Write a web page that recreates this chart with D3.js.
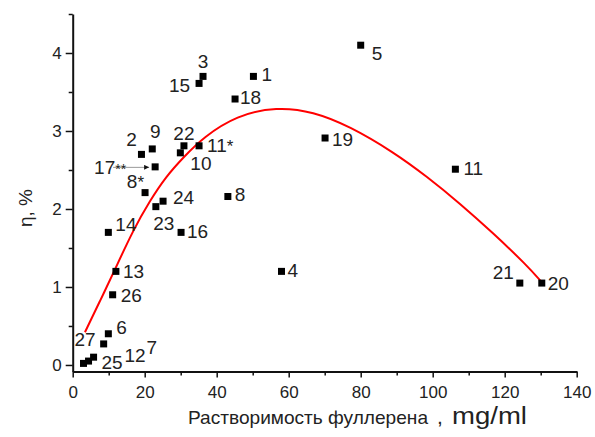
<!DOCTYPE html>
<html>
<head>
<meta charset="utf-8">
<script src="https://cdn.jsdelivr.net/npm/d3@7"></script>
<style>
body { margin: 0; background: #fff; }
text { font-family: "Liberation Sans", Arial, sans-serif; fill: #222; }
</style>
</head>
<body>
<div id="chart"></div>
<script>
// sample numbers and measured points
var ids   = ["1", "2", "3", "4", "5", "6", "7", "8", "8*", "9", "10", "11", "11*", "12", "13",
             "14", "15", "16", "17**", "18", "19", "20", "21", "22", "23", "24", "25", "26", "27"];
var solub = [50.2, 19.1, 36.2, 58.0, 80.0, 9.9, 5.8, 43.1, 20.1, 22.1, 29.9, 106.3, 35.1, 4.4, 12.0,
             9.9, 35.1, 30.1, 22.9, 45.1, 70.1, 130.3, 124.2, 30.9, 23.1, 25.1, 3.0, 11.1, 8.6];
var eta   = [3.70, 2.70, 3.70, 1.20, 4.10, 0.40, 0.10, 2.16, 2.21, 2.77, 2.72, 2.51, 2.81, 0.05, 1.20,
             1.70, 3.61, 1.70, 2.54, 3.41, 2.91, 1.05, 1.05, 2.81, 2.03, 2.10, 0.02, 0.90, 0.27];

// fitted curve
var fitX = [3.4, 7.8, 11.8, 16.8, 21.5, 26.0, 30.7, 36.3, 45.5, 56.7, 66.8, 77.0, 89.1, 98.3, 107.6, 116.8, 126.1, 130.3];
var fitY = [0.42, 0.84, 1.23, 1.73, 2.11, 2.42, 2.66, 2.92, 3.20, 3.31, 3.25, 3.06, 2.73, 2.42, 2.07, 1.69, 1.28, 1.06];

var xTicks = [0, 20, 40, 60, 80, 100, 120, 140];
var xMinor = [10, 30, 50, 70, 90, 110, 130];
var yTicks = [0, 1, 2, 3, 4];
var yMinor = [0.5, 1.5, 2.5, 3.5, 4.5];

// where each number sits next to its square: [anchor, dx, dy]
var labelPos = {
    "1": ["start", 8, 5], "2": ["middle", -10, -8], "3": ["middle", 0, -8], "4": ["start", 6, 6],
    "5": ["start", 11, 15], "6": ["start", 8, 0], "7": ["start", 53, -3], "8": ["start", 7, 4],
    "8*": ["end", -1, -5], "9": ["middle", 3, -11], "10": ["start", 10, 17], "11": ["start", 8, 6],
    "11*": ["start", 8, 6], "12": ["start", 36, 1], "13": ["start", 7, 7], "14": ["start", 7, -1],
    "15": ["end", -9, 9], "16": ["start", 6, 6], "17**": ["end", -29, 7], "18": ["start", 5, 5],
    "19": ["start", 7, 8], "20": ["start", 6, 7], "21": ["end", -6, -4], "22": ["middle", 0, -6],
    "23": ["middle", 8, 23], "24": ["start", 10, 3], "25": ["start", 18, 6], "26": ["start", 8, 7],
    "27": ["end", -8, 2]
};

var svg = d3.select("#chart").append("svg")
    .attr("width", 595)
    .attr("height", 437);

var x = d3.scaleLinear().domain([0, 140]).range([72.7, 576.7]);
var y = d3.scaleLinear().domain([-0.085, 4.5]).range([371.6, 14]);

// axes
var gx = svg.append("g").attr("transform", "translate(0,371.6)");
gx.call(d3.axisBottom(x).tickValues(xTicks).tickFormat(d3.format("d"))
    .tickSize(6).tickSizeOuter(0).tickPadding(8.5));
gx.append("g").call(d3.axisBottom(x).tickValues(xMinor).tickSize(4).tickFormat(""))
    .select(".domain").remove();

var gy = svg.append("g").attr("transform", "translate(72.7,0)");
gy.call(d3.axisLeft(y).tickValues(yTicks).tickFormat(d3.format("d"))
    .tickSize(7).tickSizeOuter(0).tickPadding(4));
gy.append("g").call(d3.axisLeft(y).tickValues(yMinor).tickSize(4).tickFormat(""))
    .select(".domain").remove();

svg.selectAll(".domain").attr("stroke", "#111").attr("stroke-width", 2);
svg.selectAll(".tick line").attr("stroke", "#111").attr("stroke-width", 1.5);
svg.selectAll(".tick text")
    .attr("font-size", 17)
    .attr("font-family", "Liberation Sans, Arial, sans-serif")
    .attr("fill", "#222");

// fitted curve
var line = d3.line()
    .x(d => x(d[0]))
    .y(d => y(d[1]))
    .curve(d3.curveBasis);

svg.append("path")
    .datum(fitX.map((v, i) => [v, fitY[i]]))
    .attr("d", line)
    .attr("fill", "none")
    .attr("stroke", "#f00")
    .attr("stroke-width", 2);

// points
var pts = ids.map((id, i) => ({ id: id, x: solub[i], y: eta[i] }));

svg.selectAll("rect.pt")
    .data(pts)
    .enter()
    .append("rect")
    .attr("class", "pt")
    .attr("x", d => x(d.x) - 3.5)
    .attr("y", d => y(d.y) - 3.5)
    .attr("width", 7)
    .attr("height", 7)
    .attr("fill", "#000");

// arrow for 17**
svg.append("defs").append("marker")
    .attr("id", "arr")
    .attr("viewBox", "0 0 10 10")
    .attr("refX", 10).attr("refY", 5)
    .attr("markerWidth", 9).attr("markerHeight", 5)
    .attr("markerUnits", "userSpaceOnUse")
    .attr("orient", "auto")
    .append("path").attr("d", "M0,0L10,5L0,10Z").attr("fill", "#111");

var p17 = pts.find(d => d.id === "17**");
svg.append("line")
    .attr("x1", x(p17.x) - 42)
    .attr("x2", x(p17.x) - 6)
    .attr("y1", y(p17.y) + 0.5)
    .attr("y2", y(p17.y) + 0.5)
    .attr("stroke", "#999")
    .attr("stroke-width", 1)
    .attr("marker-end", "url(#arr)");

// number labels
var labels = svg.selectAll("text.lbl")
    .data(pts)
    .enter()
    .append("text")
    .attr("class", "lbl")
    .attr("font-size", 19)
    .attr("text-anchor", d => labelPos[d.id][0])
    .attr("x", d => x(d.x) + labelPos[d.id][1])
    .attr("y", d => y(d.y) + labelPos[d.id][2]);

labels.each(function (d) {
    var t = d3.select(this);
    var m = d.id.match(/^(\d+)(\**)$/);
    t.append("tspan").text(m[1]);
    if (m[2]) {
        t.append("tspan")
            .attr("font-size", m[2].length > 1 ? 14 : 17)
            .text(m[2]);
    }
});

// axis titles
var xt = svg.append("text").attr("y", 424);
xt.append("tspan").attr("x", 188).attr("font-size", 19)
    .attr("textLength", 240).attr("lengthAdjust", "spacingAndGlyphs")
    .text("Растворимость фуллерена");
xt.append("tspan").attr("x", 437).attr("font-size", 21).text(",");
xt.append("tspan").attr("x", 452).attr("font-size", 23)
    .attr("textLength", 75).attr("lengthAdjust", "spacingAndGlyphs")
    .text("mg/ml");

svg.append("text")
    .attr("transform", "translate(32,208) rotate(-90)")
    .attr("text-anchor", "middle")
    .attr("font-size", 19)
    .text("η, %");
</script>
</body>
</html>
